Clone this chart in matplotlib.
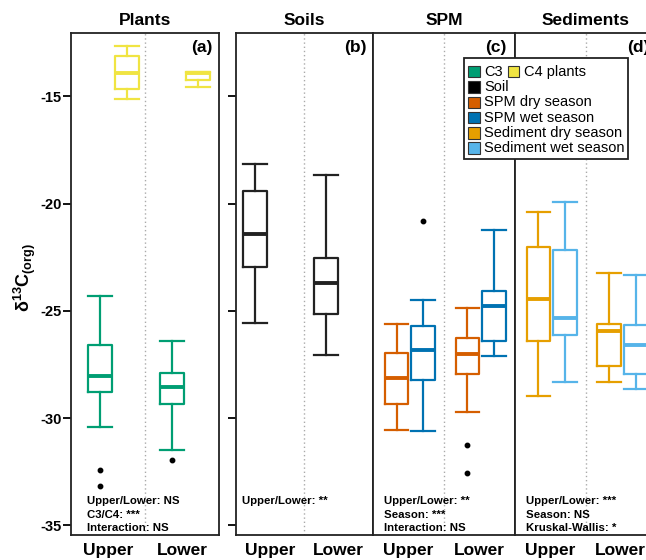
import matplotlib
matplotlib.use("Agg")
import matplotlib.pyplot as plt
from matplotlib.patches import Rectangle

plt.rcParams['font.family'] = ['Liberation Sans', 'DejaVu Sans']
plt.rcParams['mathtext.fontset'] = 'custom'
plt.rcParams['mathtext.rm'] = 'Liberation Sans'
plt.rcParams['mathtext.default'] = 'regular'

# box stats: [low whisker, Q1, median, Q3, high whisker]
c3_upper = [-30.40, -28.77, -28.04, -26.61, -24.31]
c3_lower = [-31.48, -29.36, -28.57, -27.91, -26.41]
c4_upper = [-15.13, -14.65, -13.90, -13.11, -12.66]
c4_lower = [-14.55, -14.24, -13.91, -13.85, -13.85]
soil_upper = [-25.55, -22.97, -21.43, -19.40, -18.17]
soil_lower = [-27.06, -25.16, -23.72, -22.55, -18.67]
spm_dry_upper = [-30.56, -29.36, -28.12, -26.95, -25.63]
spm_wet_upper = [-30.59, -28.24, -26.81, -25.71, -24.50]
spm_dry_lower = [-29.72, -27.93, -27.03, -26.25, -24.86]
spm_wet_lower = [-27.09, -26.42, -24.78, -24.06, -21.23]
sed_dry_upper = [-28.96, -26.41, -24.44, -22.01, -20.39]
sed_wet_upper = [-28.32, -26.13, -25.32, -22.15, -19.93]
sed_dry_lower = [-28.31, -27.56, -25.94, -25.62, -23.24]
sed_wet_lower = [-28.65, -27.93, -26.61, -25.66, -23.33]

# outliers
c3_upper_out = [-32.42, -33.17]
c3_lower_out = [-31.96]
spm_wet_upper_out = [-20.80]
spm_dry_lower_out = [-31.26, -32.57]

groups = ['Upper', 'Lower']
titles = ['Plants', 'Soils', 'SPM', 'Sediments']
panel_tags = ['(a)', '(b)', '(c)', '(d)']
stats_text = [
    ['Upper/Lower: NS', 'C3/C4: ***', 'Interaction: NS'],
    ['Upper/Lower: **'],
    ['Upper/Lower: **', 'Season: ***', 'Interaction: NS'],
    ['Upper/Lower: ***', 'Season: NS', 'Kruskal-Wallis: *'],
]

GREEN = '#009E73'
YELLOW = '#F0E442'
BLACK = '#222222'
VERMIL = '#D55E00'
BLUE = '#0072B2'
ORANGE = '#E69F00'
SKY = '#56B4E9'

W, H = 646, 560


def fx(px):
    return px / W


def fy(py):
    return 1 - py / H


def make_stats(vals, fliers=()):
    return dict(whislo=vals[0], q1=vals[1], med=vals[2], q3=vals[3],
                whishi=vals[4], fliers=list(fliers))


def draw_box(ax, vals, pos, color, fliers=(), width=0.33):
    ax.bxp([make_stats(vals, fliers)], positions=[pos], widths=width,
           capwidths=width, showfliers=True, manage_ticks=False,
           boxprops=dict(color=color, linewidth=1.6),
           whiskerprops=dict(color=color, linewidth=1.6),
           capprops=dict(color=color, linewidth=1.6),
           medianprops=dict(color=color, linewidth=2.8, solid_capstyle='butt'),
           flierprops=dict(marker='o', markersize=3.2, markerfacecolor='black',
                           markeredgecolor='black'))


fig = plt.figure(figsize=(W / 100, H / 100), dpi=100)

top, bottom = 33, 535
panels_px = [(71, 219.3), (235.7, 372.7), (372.7, 515), (515, 656)]
axes = []
for left, right in panels_px:
    ax = fig.add_axes([fx(left), fy(bottom), fx(right - left), (bottom - top) / H])
    axes.append(ax)

# panel (a): plants
draw_box(axes[0], c3_upper, 0.89, GREEN, c3_upper_out)
draw_box(axes[0], c4_upper, 1.255, YELLOW)
draw_box(axes[0], c3_lower, 1.86, GREEN, c3_lower_out)
draw_box(axes[0], c4_lower, 2.21, YELLOW)

# panel (b): soils
draw_box(axes[1], soil_upper, 0.78, BLACK, width=0.34)
draw_box(axes[1], soil_lower, 1.82, BLACK, width=0.34)

# panel (c): SPM
draw_box(axes[2], spm_dry_upper, 0.835, VERMIL)
draw_box(axes[2], spm_wet_upper, 1.21, BLUE, spm_wet_upper_out)
draw_box(axes[2], spm_dry_lower, 1.83, VERMIL, spm_dry_lower_out)
draw_box(axes[2], spm_wet_lower, 2.205, BLUE)

# panel (d): sediments
draw_box(axes[3], sed_dry_upper, 0.83, ORANGE)
draw_box(axes[3], sed_wet_upper, 1.21, SKY)
draw_box(axes[3], sed_dry_lower, 1.835, ORANGE)
draw_box(axes[3], sed_wet_lower, 2.21, SKY)

stat_x = [0.11, 0.044, 0.079, 0.076]
tag_x = [0.951, 0.956, 0.942, 0.957]
for i, ax in enumerate(axes):
    ax.set_xlim(0.5, 2.5)
    ax.set_ylim(-35.45, -12.05)
    ax.axvline(1.5, color='#aaaaaa', linestyle=(0, (1, 2)), linewidth=1, zorder=0)
    for s in ax.spines.values():
        s.set_linewidth(1.3)
        s.set_color('#222222')
    ax.set_xticks([1, 2])
    ax.set_xticklabels(groups, fontsize=12.5, fontweight='bold')
    ax.tick_params(axis='x', length=0, pad=6)
    ax.set_yticks([-35, -30, -25, -20, -15])
    if i == 0:
        ax.set_yticklabels(['-35', '-30', '-25', '-20', '-15'],
                           fontsize=10.5, fontweight='bold')
        ax.tick_params(axis='y', length=6, width=1.3, pad=1)
    elif i == 1:
        ax.set_yticklabels([])
        ax.tick_params(axis='y', length=6, width=1.3)
    else:
        ax.tick_params(axis='y', length=0, labelleft=False)
    ax.text(0.5, 1.024, titles[i], transform=ax.transAxes, ha='center',
            va='center', fontsize=12.5, fontweight='bold')
    ax.text(tag_x[i], 0.972, panel_tags[i], transform=ax.transAxes, ha='right',
            va='center', fontsize=12.5, fontweight='bold')
    line_y = [0.068, 0.040, 0.013]
    for j, line in enumerate(stats_text[i]):
        ax.text(stat_x[i], line_y[j], line, transform=ax.transAxes, ha='left',
                va='center', fontsize=8.2, fontweight='bold')

fig.text(fx(25), fy(278), r'δ$^{13}$C$_{(org)}$', rotation=90, ha='center',
         va='center', fontsize=13, fontweight='bold')

# legend drawn by hand (first row carries two swatches)
fig.add_artist(Rectangle((fx(464.3), fy(159.3)), fx(627.7 - 464.3), (159.3 - 58.3) / H,
                         transform=fig.transFigure, facecolor='white',
                         edgecolor='#222222', linewidth=1.3, zorder=5))
legend_rows = [
    [(GREEN, 'C3'), (YELLOW, 'C4 plants')],
    [('black', 'Soil')],
    [(VERMIL, 'SPM dry season')],
    [(BLUE, 'SPM wet season')],
    [(ORANGE, 'Sediment dry season')],
    [(SKY, 'Sediment wet season')],
]
row_y = [71.7, 87.0, 102.3, 117.6, 132.9, 148.2]
sq = 11.5
for r, items in enumerate(legend_rows):
    cy = row_y[r]
    x0 = 468.3
    for color, label in items:
        fig.add_artist(Rectangle((fx(x0), fy(cy + sq / 2)), fx(sq), sq / H,
                                 transform=fig.transFigure, facecolor=color,
                                 edgecolor='#333333', linewidth=0.8, zorder=6))
        fig.text(fx(x0 + sq + 4.5), fy(cy), label, ha='left', va='center',
                 fontsize=10.5, zorder=7)
        x0 = 507.7

fig.savefig('out.png', dpi=100)
